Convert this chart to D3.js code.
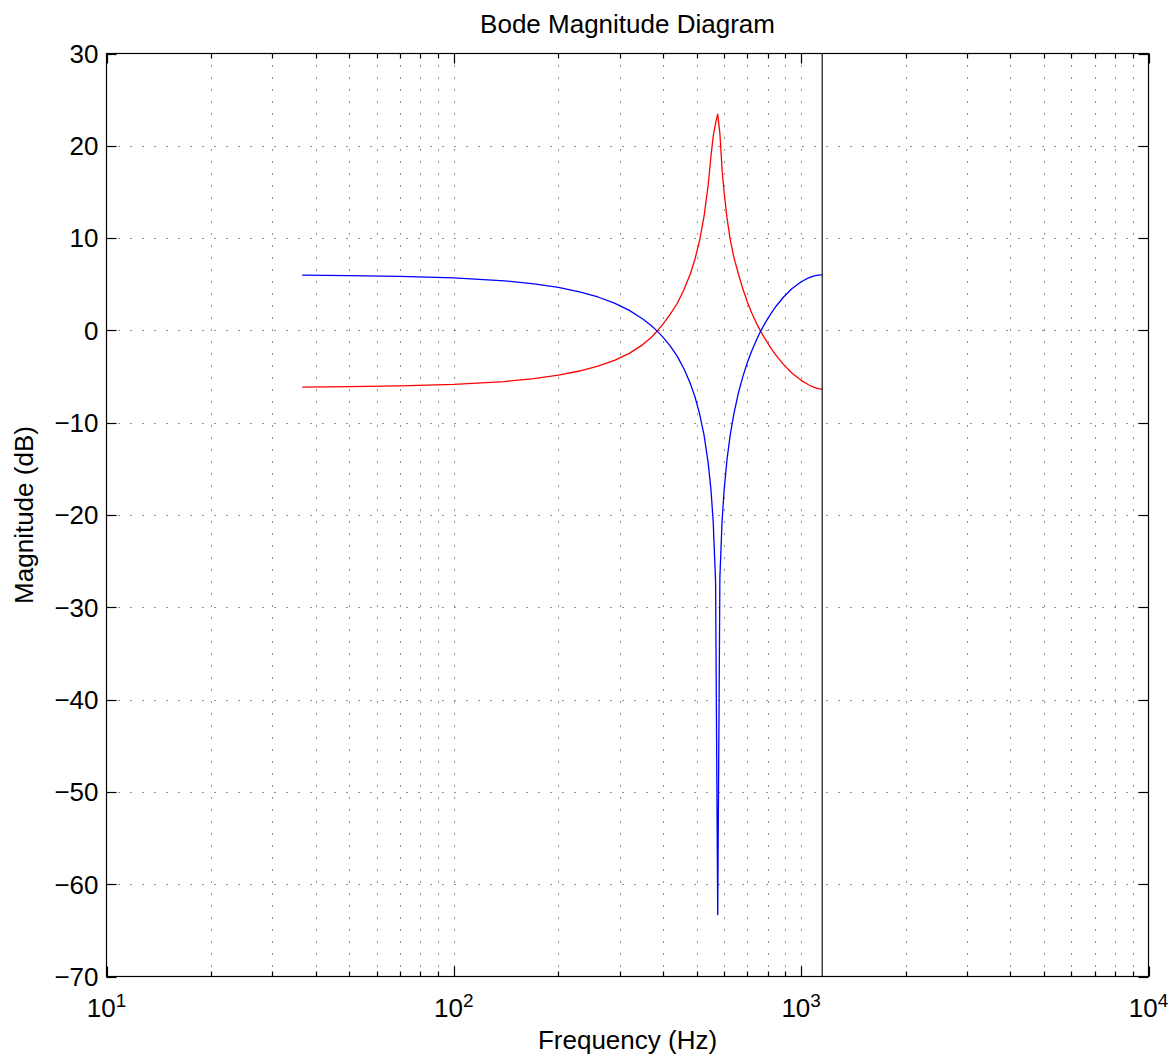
<!DOCTYPE html>
<html>
<head>
<meta charset="utf-8">
<script src="https://cdn.jsdelivr.net/npm/d3@7"></script>
<style>
  body { margin: 0; background: #fff; }
  svg { display: block; }
  text { font-family: "Liberation Sans", Arial, Helvetica, sans-serif; fill: #000; }
</style>
</head>
<body>
<svg id="chart" width="1173" height="1059"></svg>
<script>
// Frequency samples (Hz) shared by both responses
const freqHz = [
  36.6, 50, 70, 100, 140, 170, 200, 230, 260, 290, 320, 350, 370, 385, 400,
  420, 440, 460, 480, 495, 510, 525, 540, 550, 558, 567, 575.1, 583.4, 592,
  600, 612, 625, 640, 660, 680, 700, 720, 745, 766, 790, 820, 850, 890, 940,
  1000, 1050, 1090, 1120, 1150
];

// Notch response magnitude (dB), blue trace
const magNotch = [
  5.98, 5.94, 5.86, 5.69, 5.37, 5.05, 4.65, 4.18, 3.62, 2.95, 2.17, 1.24, 0.52, -0.08, -0.73,
  -1.71, -2.82, -4.18, -5.79, -7.24, -9.04, -11.30, -14.38, -17.30, -20.64, -27.18, -63.3, -26.77, -20.65,
  -17.30, -13.90, -11.30, -9.04, -6.73, -4.95, -3.48, -2.25, -0.96, -0.02, 0.89, 1.87, 2.70, 3.62, 4.51,
  5.27, 5.69, 5.90, 5.99, 6.02
];

// Resonant (inverse) response magnitude (dB), red trace
const magPeak = [
  -6.14, -6.10, -6.02, -5.85, -5.54, -5.23, -4.85, -4.40, -3.88, -3.25, -2.49, -1.54, -0.77, -0.07, 0.68,
  1.76, 2.94, 4.43, 6.17, 7.76, 9.76, 12.30, 15.78, 18.90, 21.00, 22.45, 23.43, 21.34, 17.40,
  14.95, 12.10, 9.80, 7.94, 6.08, 4.45, 3.08, 1.92, 0.71, -0.16, -1.01, -1.97, -2.79, -3.71, -4.61,
  -5.41, -5.89, -6.17, -6.31, -6.39
];

const nyquistHz = 1150;
const yTicks = [30, 20, 10, 0, -10, -20, -30, -40, -50, -60, -70];
const xDecades = [1, 2, 3, 4];
const titleText = "Bode Magnitude Diagram";
const xLabelText = "Frequency (Hz)";
const yLabelText = "Magnitude (dB)";

const svg = d3.select("#chart");
svg.append("rect").attr("width", 1173).attr("height", 1059).attr("fill", "#fff");

const plot = { left: 106.5, right: 1148.5, top: 53.5, bottom: 976.5 };
const fontSize = 26;

const x = d3.scaleLog().domain([10, 10000]).range([plot.left, plot.right]);
const y = d3.scaleLinear().domain([-70, 30]).range([plot.bottom, plot.top]);

// All log ticks (decades plus 2..9 multiples)
const allXTicks = x.ticks();
const isMajor = v => Math.abs(Math.log10(v) - Math.round(Math.log10(v))) < 1e-9;

// Dotted grid
const grid = svg.append("g").attr("stroke", "#000").attr("stroke-width", 1)
  .attr("stroke-dasharray", "1,11").attr("fill", "none").attr("opacity", 0.85);
grid.selectAll("line.gx").data(allXTicks.filter(v => v > 10 && v < 10000)).enter()
  .append("line").attr("class", "gx")
  .attr("x1", d => Math.round(x(d)) + 0.5).attr("x2", d => Math.round(x(d)) + 0.5)
  .attr("y1", plot.top).attr("y2", plot.bottom);
grid.selectAll("line.gy").data(yTicks.filter(v => v > -70 && v < 30)).enter()
  .append("line").attr("class", "gy")
  .attr("x1", plot.left).attr("x2", plot.right)
  .attr("y1", d => Math.round(y(d)) + 0.5).attr("y2", d => Math.round(y(d)) + 0.5);

// Response traces
const line = d3.line().x(d => x(d[0])).y(d => y(d[1]));
svg.append("path")
  .attr("d", line(freqHz.map((f, i) => [f, magPeak[i]])))
  .attr("fill", "none").attr("stroke", "#ff0000").attr("stroke-width", 1.3)
  .attr("stroke-linejoin", "round");
svg.append("path")
  .attr("d", line(freqHz.map((f, i) => [f, magNotch[i]])))
  .attr("fill", "none").attr("stroke", "#0000ff").attr("stroke-width", 1.3)
  .attr("stroke-linejoin", "round");

// Nyquist frequency marker
svg.append("line")
  .attr("x1", x(nyquistHz)).attr("x2", x(nyquistHz))
  .attr("y1", plot.top).attr("y2", plot.bottom)
  .attr("stroke", "#333").attr("stroke-width", 1.4);

// Axes box and ticks
const axes = svg.append("g").attr("stroke", "#000").attr("stroke-width", 1.2).attr("fill", "none");
axes.append("rect")
  .attr("x", plot.left).attr("y", plot.top)
  .attr("width", plot.right - plot.left).attr("height", plot.bottom - plot.top);

allXTicks.forEach(v => {
  const len = isMajor(v) ? 10 : 5;
  const px = Math.round(x(v)) + 0.5;
  axes.append("line").attr("x1", px).attr("x2", px).attr("y1", plot.bottom).attr("y2", plot.bottom - len);
  axes.append("line").attr("x1", px).attr("x2", px).attr("y1", plot.top).attr("y2", plot.top + len);
});
yTicks.forEach(v => {
  const py = Math.round(y(v)) + 0.5;
  axes.append("line").attr("x1", plot.left).attr("x2", plot.left + 10).attr("y1", py).attr("y2", py);
  axes.append("line").attr("x1", plot.right).attr("x2", plot.right - 10).attr("y1", py).attr("y2", py);
});

// Y tick labels
const fmt = d3.format("d");
svg.append("g").selectAll("text").data(yTicks).enter().append("text")
  .attr("x", plot.left - 8).attr("y", d => y(d))
  .attr("dy", "0.36em").attr("text-anchor", "end")
  .attr("font-size", fontSize).text(d => fmt(d));

// X tick labels: 10 with superscript exponent
const xl = svg.append("g").selectAll("text").data(xDecades).enter().append("text")
  .attr("x", d => x(Math.pow(10, d))).attr("y", 1017)
  .attr("text-anchor", "middle").attr("font-size", fontSize);
xl.append("tspan").text("10");
xl.append("tspan").attr("dy", -10).attr("font-size", 19).text(d => d);

// Title and axis labels
svg.append("text").attr("x", (plot.left + plot.right) / 2).attr("y", 33)
  .attr("text-anchor", "middle").attr("font-size", fontSize).text(titleText);
svg.append("text").attr("x", (plot.left + plot.right) / 2).attr("y", 1049)
  .attr("text-anchor", "middle").attr("font-size", fontSize).text(xLabelText);
svg.append("text")
  .attr("transform", `translate(33,${(plot.top + plot.bottom) / 2}) rotate(-90)`)
  .attr("text-anchor", "middle").attr("font-size", fontSize).text(yLabelText);
</script>
</body>
</html>
